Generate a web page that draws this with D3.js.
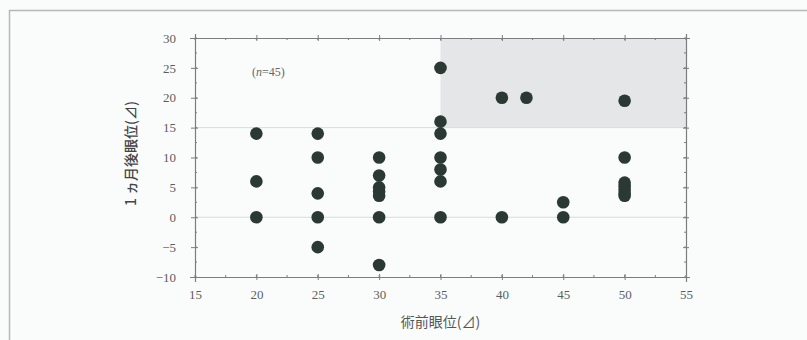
<!DOCTYPE html>
<html>
<head>
<meta charset="utf-8">
<script src="https://cdn.jsdelivr.net/npm/d3@7/dist/d3.min.js"></script>
<style>
  html, body { margin: 0; padding: 0; background: #fafcfc; }
  svg { display: block; }
</style>
</head>
<body>
<svg id="chart" width="807" height="340"></svg>
<script>
// Pre-operative deviation (x) vs deviation one month after surgery (y), prism dioptres
const preOp  = [20, 20, 20, 25, 25, 25, 25, 25, 30, 30, 30, 30, 30, 30, 30, 35, 35, 35, 35, 35, 35, 35, 40, 40, 42, 45, 45, 50, 50, 50, 50, 50, 50, 50];
const postOp = [14,  6,  0, 14, 10,  4,  0, -5, 10,  7,  5, 4.3, 3.6, 0, -8, 25, 16, 14, 10,  8,  6,  0, 20,  0, 20, 2.5, 0, 19.5, 10, 5.8, 5.2, 4.6, 4, 3.6];
const xTicks = [15, 20, 25, 30, 35, 40, 45, 50, 55];
const yTicks = [30, 25, 20, 15, 10, 5, 0, -5, -10];
const xDomain = [15, 55];
const yDomain = [-10, 30];
const region = { x0: 35, x1: 55, y0: 15, y1: 30 };
const xTitle = "術前眼位(⊿)";
const yTitle = "1 ヵ月後眼位(⊿)";

const svg = d3.select("#chart");
const mLeft = 195, mRight = 686, mTop = 38, mBottom = 277;
const x = d3.scaleLinear().domain(xDomain).range([mLeft, mRight]);
const y = d3.scaleLinear().domain(yDomain).range([mBottom, mTop]);

// outer frame
svg.append("path")
  .attr("d", `M9.5,345 V10.5 H812`)
  .attr("fill", "none").attr("stroke", "#b4b8b8").attr("stroke-width", 1.5);

// shaded region
svg.append("rect")
  .attr("x", x(region.x0)).attr("y", y(region.y1))
  .attr("width", x(region.x1) - x(region.x0))
  .attr("height", y(region.y0) - y(region.y1))
  .attr("fill", "#e4e6e7");

// faint reference lines at 0 and 15
[0, region.y0].forEach(v => {
  svg.append("line")
    .attr("x1", mLeft).attr("x2", mRight)
    .attr("y1", y(v)).attr("y2", y(v))
    .attr("stroke", "#d8dcdc").attr("stroke-width", 1);
});

const axisColor = "#7a7e7e";
const minorX = d3.range(xDomain[0], xDomain[1] + 0.01, 2.5);
const minorY = d3.range(yDomain[0], yDomain[1] + 0.01, 2.5);

function styleAxis(g) {
  g.attr("color", axisColor);
  g.selectAll("path.domain").attr("stroke", axisColor).attr("stroke-width", 1.2);
  g.selectAll(".tick line").attr("stroke", axisColor);
  g.selectAll(".tick text").attr("fill", "#5a5e5e")
    .attr("font-family", "'Liberation Serif', 'DejaVu Serif', serif")
    .attr("font-size", 13);
}

// bottom axis
const gb = svg.append("g").attr("transform", `translate(0,${mBottom})`)
  .call(d3.axisBottom(x).tickValues(xTicks).tickSize(5).tickPadding(8));
styleAxis(gb);
gb.selectAll(".tick line").attr("y1", -3).attr("y2", 3);
gb.selectAll(".minor").data(minorX).enter().append("line")
  .attr("x1", d => x(d)).attr("x2", d => x(d)).attr("y1", -2).attr("y2", 0)
  .attr("stroke", axisColor);

// top axis
const gt = svg.append("g").attr("transform", `translate(0,${mTop})`)
  .call(d3.axisTop(x).tickValues(xTicks).tickFormat("").tickSize(4));
styleAxis(gt);
gt.selectAll(".tick line").attr("y1", -3).attr("y2", 3);
gt.selectAll(".minor").data(minorX).enter().append("line")
  .attr("x1", d => x(d)).attr("x2", d => x(d)).attr("y1", 0).attr("y2", 2)
  .attr("stroke", axisColor);

// left axis
const gl = svg.append("g").attr("transform", `translate(${mLeft},0)`)
  .call(d3.axisLeft(y).tickValues(yTicks).tickFormat(d => d < 0 ? "\u2212" + Math.abs(d) : d).tickSize(5).tickPadding(14));
styleAxis(gl);
gl.selectAll(".tick line").attr("x1", -4).attr("x2", 3);
gl.selectAll(".minor").data(minorY).enter().append("line")
  .attr("y1", d => y(d)).attr("y2", d => y(d)).attr("x1", 0).attr("x2", 2)
  .attr("stroke", axisColor);

// right axis
const gr = svg.append("g").attr("transform", `translate(${mRight},0)`)
  .call(d3.axisRight(y).tickValues(yTicks).tickFormat("").tickSize(4));
styleAxis(gr);
gr.selectAll(".tick line").attr("x1", -3).attr("x2", 3);
gr.selectAll(".minor").data(minorY).enter().append("line")
  .attr("y1", d => y(d)).attr("y2", d => y(d)).attr("x1", -2).attr("x2", 0)
  .attr("stroke", axisColor);

// points
svg.append("g").selectAll("circle")
  .data(preOp.map((d, i) => ({ x: d, y: postOp[i] })))
  .enter().append("circle")
  .attr("cx", d => x(d.x)).attr("cy", d => y(d.y))
  .attr("r", 6.3)
  .attr("fill", "#2b3935");

// sample size label
const nl = svg.append("text")
  .attr("x", 252).attr("y", 76)
  .attr("font-family", "'Liberation Serif', 'DejaVu Serif', serif")
  .attr("font-size", 12).attr("fill", "#666");
nl.append("tspan").text("(");
nl.append("tspan").attr("font-style", "italic").text("n");
nl.append("tspan").text("=45)");

// axis titles
svg.append("text")
  .attr("x", x(35)).attr("y", 327)
  .attr("text-anchor", "middle")
  .attr("font-family", "'Noto Sans CJK JP', sans-serif")
  .attr("font-size", 14).attr("fill", "#555")
  .text(xTitle);

svg.append("text")
  .attr("transform", `translate(136,${(mTop + mBottom) / 2 - 4}) rotate(-90)`)
  .attr("text-anchor", "middle")
  .attr("font-family", "'Noto Sans CJK JP', sans-serif")
  .attr("font-size", 14).attr("font-weight", 500).attr("fill", "#444")
  .text(yTitle);
</script>
</body>
</html>
